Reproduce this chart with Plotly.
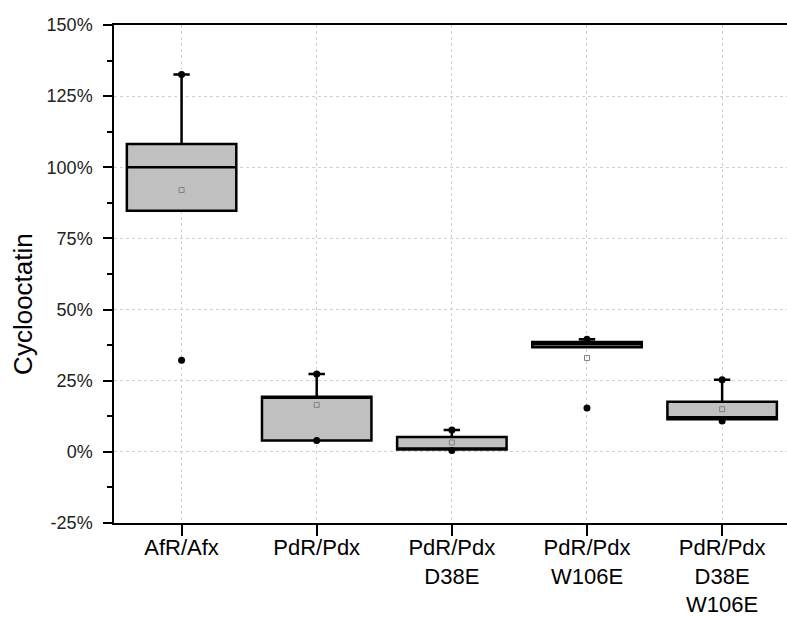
import plotly.graph_objects as go

categories = ["AfR/Afx", "PdR/Pdx", "PdR/Pdx<br>D38E", "PdR/Pdx<br>W106E", "PdR/Pdx<br>D38E<br>W106E"]
positions = [0, 1, 2, 3, 4]
q1 = [84.7, 4.0, 0.8, 36.8, 11.5]
median = [100.0, 19.0, 1.2, 37.8, 12.2]
q3 = [108.2, 19.4, 5.2, 38.6, 17.6]
lowerfence = [84.7, 4.0, 0.8, 36.8, 11.5]
upperfence = [132.6, 27.4, 7.7, 39.6, 25.3]
means = [92.0, 16.5, 3.3, 33.0, 15.0]
minimum = [32.2, 4.0, 0.5, 15.4, 10.8]
maximum = [132.6, 27.4, 7.7, 39.6, 25.3]

y_ticks = [-25, 0, 25, 50, 75, 100, 125, 150]
y_title = "Cyclooctatin"

fig = go.Figure()
fig.add_trace(go.Box(
    x=positions, q1=q1, median=median, q3=q3,
    lowerfence=lowerfence, upperfence=upperfence,
    width=0.81, whiskerwidth=0.15,
    fillcolor="#c0c0c0", line=dict(color="black", width=2.5),
    boxpoints=False, showlegend=False, hoverinfo="skip",
))
fig.add_trace(go.Scatter(
    x=positions, y=means, mode="markers",
    marker=dict(symbol="square-open", size=5, color="#808080", line=dict(width=1, color="#808080")),
    showlegend=False,
))
fig.add_trace(go.Scatter(
    x=positions + positions, y=maximum + minimum, mode="markers",
    marker=dict(symbol="circle", size=7, color="black"),
    showlegend=False,
))

fig.update_layout(
    width=787, height=621,
    margin=dict(l=114, r=0, t=25, b=98),
    paper_bgcolor="white", plot_bgcolor="white",
    font=dict(family="Liberation Sans, Arial, sans-serif", color="black"),
    xaxis=dict(
        range=[-0.5, 4.48], tickmode="array", tickvals=positions, ticktext=categories,
        ticks="outside", ticklen=11, tickwidth=1.5, tickcolor="black",
        ticklabelstandoff=-7,
        showline=True, linecolor="black", linewidth=1.5, mirror=True,
        showgrid=True, gridcolor="#d0d0d0", griddash="dot", gridwidth=1,
        tickfont=dict(size=22, color="black"), zeroline=False, automargin=False,
    ),
    yaxis=dict(
        range=[-25, 150], tickmode="array", tickvals=y_ticks,
        ticktext=[f"{v}%" for v in y_ticks],
        ticks="outside", ticklen=9, tickwidth=1.5, tickcolor="black",
        ticklabelstandoff=7,
        minor=dict(ticks="outside", ticklen=5, tickwidth=1.5, tickcolor="black",
                   tick0=-12.5, dtick=25, showgrid=False),
        showline=True, linecolor="black", linewidth=1.5,
        showgrid=True, gridcolor="#d0d0d0", griddash="dot", gridwidth=1,
        tickfont=dict(size=18, color="#222"), zeroline=False, automargin=False,
    ),
    annotations=[dict(
        text=y_title, textangle=-90, showarrow=False,
        xref="paper", x=-91 / 673, xanchor="center",
        yref="y", y=52, yanchor="middle",
        font=dict(size=26, color="black"),
    )],
)

fig.write_html(
    "out.html",
    config={"displayModeBar": False},
    post_script="document.body.style.margin='0';document.body.style.overflow='hidden';",
)
